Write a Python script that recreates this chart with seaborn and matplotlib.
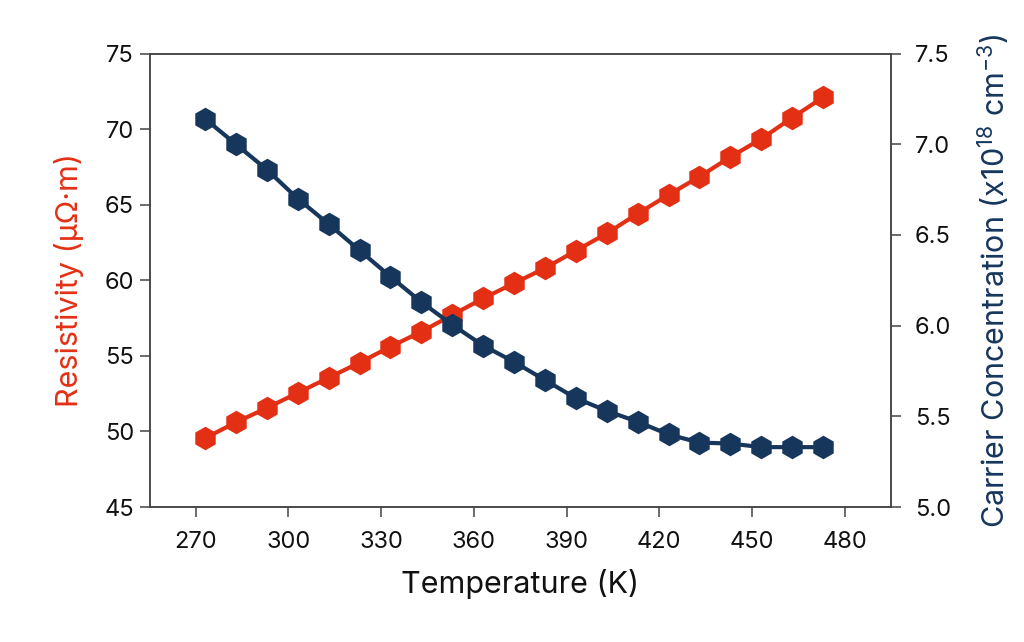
import numpy as np
import matplotlib
matplotlib.use("Agg")
import matplotlib.pyplot as plt
import seaborn as sns
import pandas as pd

# data
temperature = [273, 283, 293, 303, 313, 323, 333, 343, 353, 363, 373,
               383, 393, 403, 413, 423, 433, 443, 453, 463, 473]
resistivity = [49.55, 50.6, 51.55, 52.55, 53.55, 54.55, 55.6, 56.6, 57.7, 58.8, 59.8,
               60.8, 61.95, 63.1, 64.4, 65.65, 66.85, 68.15, 69.35, 70.75, 72.1]
carrier = [7.14, 7.00, 6.86, 6.70, 6.56, 6.415, 6.27, 6.13, 6.005, 5.89, 5.80,
           5.70, 5.60, 5.53, 5.47, 5.40, 5.355, 5.35, 5.33, 5.33, 5.33]

RED = "#E33015"
NAVY = "#17365C"

df = pd.DataFrame({"T": temperature, "rho": resistivity, "n": carrier})

sns.set_style("ticks")
plt.rcParams["font.family"] = ["Inter", "DejaVu Sans"]
plt.rcParams["mathtext.fontset"] = "custom"
plt.rcParams["mathtext.rm"] = "Inter"
plt.rcParams["mathtext.it"] = "Inter"

fig = plt.figure(figsize=(10.24, 6.42), dpi=100)
ax = fig.add_axes([150 / 1024, 1 - 507 / 642, (891 - 150) / 1024, (507 - 53.5) / 642])
ax2 = ax.twinx()

sns.lineplot(data=df, x="T", y="rho", ax=ax, color=RED, lw=3, marker="h",
             markersize=17, markeredgewidth=0, zorder=3)
sns.lineplot(data=df, x="T", y="n", ax=ax2, color=NAVY, lw=3, marker="h",
             markersize=17, markeredgewidth=0, zorder=3)

ax.set_xlim(255.2, 495)
ax.set_ylim(45, 75)
ax2.set_ylim(5.0, 7.5)
ax.set_xticks(np.arange(270, 481, 30))
ax.set_yticks(np.arange(45, 76, 5))
ax2.set_yticks(np.arange(5.0, 7.51, 0.5))
ax2.set_yticklabels([f"{v:.1f}" for v in np.arange(5.0, 7.51, 0.5)])

for a in (ax, ax2):
    a.tick_params(axis="both", labelsize=17, length=7, width=1.1,
                  color="#444444", labelcolor="#111111", direction="out")
    for s in a.spines.values():
        s.set_color("#444444")
        s.set_linewidth(1.1)
        s.set_visible(True)
ax.tick_params(axis="x", pad=10)
ax.tick_params(axis="y", pad=4.5)
ax2.tick_params(axis="y", pad=10)

ax.set_xlabel("Temperature (K)", fontsize=22, color="#111111", labelpad=12)
ax.set_ylabel("Resistivity (μΩ·m)", fontsize=22, color=RED, labelpad=15)
ax2.set_ylabel("Carrier Concentration (x10$^{18}$ cm$^{-3}$)", fontsize=22,
               color=NAVY, labelpad=18)

fig.savefig("out.png", dpi=100)
